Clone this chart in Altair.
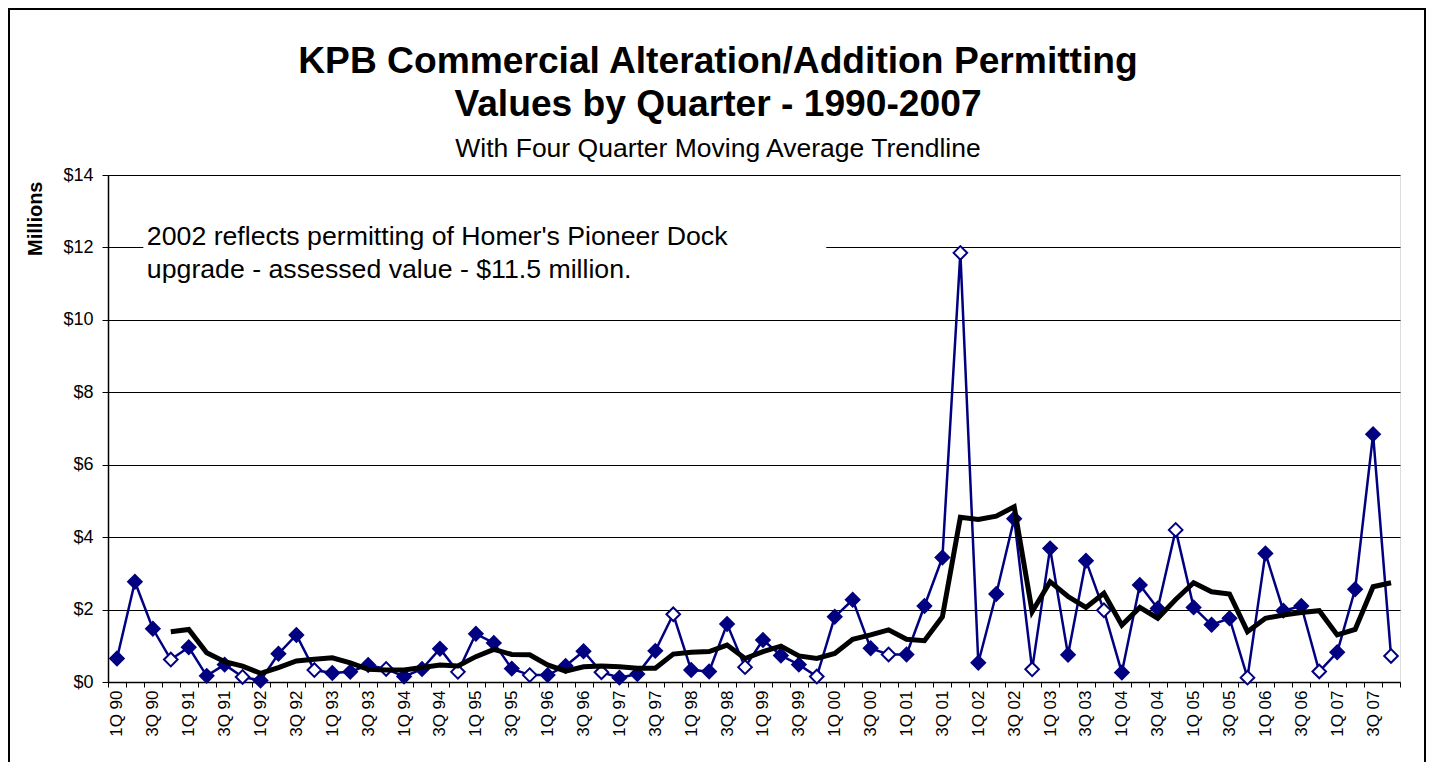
import altair as alt
import pandas as pd

# ---- data -------------------------------------------------------------
years = ["90", "91", "92", "93", "94", "95", "96", "97", "98", "99",
         "00", "01", "02", "03", "04", "05", "06", "07"]
quarters = [f"{q}Q {y}" for y in years for q in (1, 2, 3, 4)]

# quarterly permitting values, $ millions
values = [
    0.65, 2.77, 1.47, 0.62, 0.96, 0.17, 0.48, 0.14, 0.04, 0.78, 1.30, 0.33,
    0.25, 0.28, 0.47, 0.36, 0.15, 0.36, 0.92, 0.28, 1.33, 1.08, 0.37, 0.19,
    0.19, 0.44, 0.85, 0.27, 0.12, 0.22, 0.86, 1.87, 0.33, 0.29, 1.60, 0.41,
    1.16, 0.73, 0.48, 0.15, 1.80, 2.27, 0.93, 0.76, 0.76, 2.10, 3.44, 11.85,
    0.53, 2.43, 4.51, 0.35, 3.69, 0.75, 3.35, 1.98, 0.26, 2.68, 2.03, 4.20,
    2.06, 1.58, 1.76, 0.12, 3.55, 1.97, 2.10, 0.29, 0.82, 2.56, 6.84, 0.72,
]
# four quarter moving average trendline, from 4Q 90 on
ma_values = [
    1.39, 1.45, 0.81, 0.56, 0.44, 0.24, 0.40, 0.58, 0.63, 0.67, 0.53, 0.35,
    0.33, 0.33, 0.40, 0.47, 0.44, 0.70, 0.90, 0.76, 0.75, 0.47, 0.30, 0.42,
    0.44, 0.42, 0.38, 0.38, 0.77, 0.82, 0.84, 1.02, 0.65, 0.84, 0.99, 0.72,
    0.65, 0.79, 1.18, 1.30, 1.44, 1.18, 1.14, 1.80, 4.55, 4.49, 4.58, 4.84,
    1.94, 2.77, 2.36, 2.06, 2.45, 1.57, 2.06, 1.76, 2.28, 2.74, 2.49, 2.43,
    1.39, 1.76, 1.85, 1.92, 1.97, 1.30, 1.45, 2.63, 2.74,
]

y_ticks = [0, 2, 4, 6, 8, 10, 12, 14]
note_lines = ["2002 reflects permitting of Homer's Pioneer Dock",
              "upgrade - assessed value - $11.5 million."]
note_quarter = "3Q 90"
note_value = 12.08
box_quarters = quarters[2:40]
box_top, box_bottom = 13.2, 10.6

title_lines = ["KPB Commercial Alteration/Addition Permitting",
               "Values by Quarter - 1990-2007"]
subtitle = "With Four Quarter Moving Average Trendline"

# ---- tables -------------------------------------------------------------
df = pd.DataFrame({"quarter": quarters, "value": values,
                   "hollow": [q.startswith("4Q") for q in quarters]})
ma_df = pd.DataFrame({"quarter": quarters[3:], "ma": ma_values})
box_df = pd.DataFrame({"quarter": box_quarters, "top": box_top, "bottom": box_bottom})
note_df = pd.DataFrame({"quarter": [note_quarter], "value": [note_value]})

FONT = "Liberation Sans"
NAVY = "#000080"

x_scale = alt.Scale(type="band", domain=quarters, paddingInner=0, paddingOuter=0)
y_scale = alt.Scale(domain=[0, 14], nice=False)

x_axis = alt.Axis(
    labelExpr="isString(datum.value) ? ((indexof(datum.value, '2Q') == 0 || indexof(datum.value, '4Q') == 0) ? '' : datum.value) : ''",
    labelAngle=270, labelAlign="right", labelBaseline="middle",
    labelFontSize=17, labelFont=FONT, labelColor="black", labelPadding=3,
    labelOverlap=False, tickBand="extent", tickSize=5, tickColor="black",
    domainColor="black", domainWidth=1.5, grid=False, title=None,
)
y_axis = alt.Axis(
    values=y_ticks, labelExpr="'$' + datum.value",
    labelFontSize=18, labelFont=FONT, labelColor="black", labelPadding=9,
    tickSize=6, tickColor="black", domainColor="black", domainWidth=1.5,
    grid=True, gridColor="black", gridWidth=1,
    title="Millions", titleFontSize=20, titleFont=FONT, titleFontWeight="bold",
    titleColor="black", titleAngle=270, titleX=-73, titleY=6,
    titleAlign="right", titleBaseline="middle",
)

box = alt.Chart(box_df).mark_bar(color="white", stroke="white", strokeWidth=1).encode(
    x=alt.X("quarter:N", scale=x_scale, sort=quarters, axis=x_axis),
    y=alt.Y("top:Q", scale=y_scale, axis=y_axis),
    y2="bottom:Q",
)

note = alt.Chart(note_df).mark_text(
    align="left", baseline="alphabetic", dx=-6, fontSize=26.7, font=FONT,
    lineHeight=33, color="black",
).encode(
    x=alt.X("quarter:N", scale=x_scale, sort=quarters),
    y=alt.Y("value:Q", scale=y_scale),
    text=alt.value(note_lines),
)

line = alt.Chart(df).mark_line(color=NAVY, strokeWidth=2.5).encode(
    x=alt.X("quarter:N", scale=x_scale, sort=quarters),
    y=alt.Y("value:Q", scale=y_scale),
)

points = alt.Chart(df).mark_point(
    shape="diamond", size=185, filled=True, stroke=NAVY, strokeWidth=2, opacity=1,
).encode(
    x=alt.X("quarter:N", scale=x_scale, sort=quarters),
    y=alt.Y("value:Q", scale=y_scale),
    fill=alt.condition("datum.hollow", alt.value("white"), alt.value(NAVY)),
)

ma = alt.Chart(ma_df).mark_line(color="black", strokeWidth=5).encode(
    x=alt.X("quarter:N", scale=x_scale, sort=quarters),
    y=alt.Y("ma:Q", scale=y_scale),
)

frame = alt.Chart(pd.DataFrame({"f": [0]})).mark_rect(
    filled=False, stroke="black", strokeWidth=2,
).encode(
    x=alt.value(-99), x2=alt.value(1317), y=alt.value(-166), y2=alt.value(640),
)

chart = alt.layer(box, note, line, points, ma, frame).properties(
    width=1292, height=507,
    padding={"left": 100, "top": 167, "right": 26, "bottom": 80},
    autosize=alt.AutoSizeParams(type="none"),
    title=alt.TitleParams(
        text=title_lines, subtitle=subtitle,
        font=FONT, fontSize=37.2, fontWeight="bold", color="black",
        lineHeight=43, anchor="middle", dx=-36, offset=-155,
        subtitleFont=FONT, subtitleFontSize=26.5, subtitleColor="black",
        subtitlePadding=11,
    ),
).configure_view(
    stroke="#808080", strokeWidth=3,
).configure(background="white")

chart.save("out.html", embed_options={"renderer": "svg", "actions": False})
